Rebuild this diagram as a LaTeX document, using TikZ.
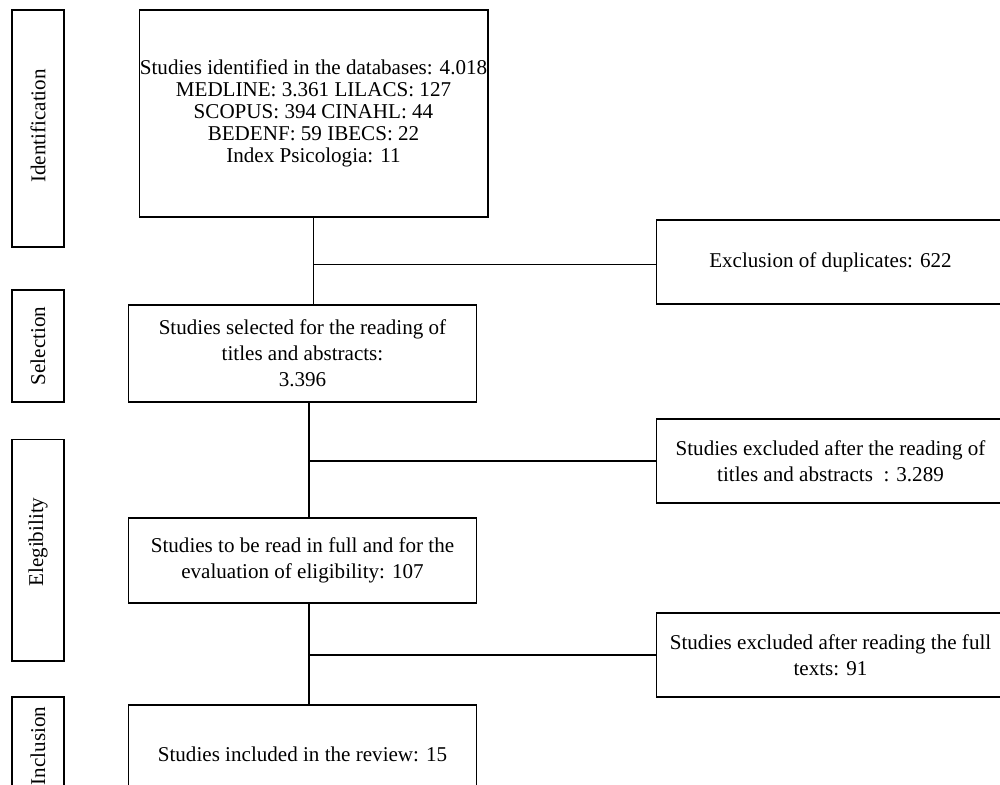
\documentclass[tikz,border=0pt]{standalone}
\usepackage{fontspec}
\setmainfont{Liberation Serif}
\usetikzlibrary{calc,positioning}

\begin{document}
\begin{tikzpicture}[x=0.02cm,y=-0.02cm]
  \tikzset{stage box/.style={draw,line width=0.6pt,minimum width=1.04cm,minimum height=#1,inner sep=0pt,font=\fontsize{12}{14.8}\selectfont},
    flow box/.style={draw,line width=0.6pt,minimum width=6.98cm,minimum height=#1,inner sep=0pt,align=center,font=\fontsize{12}{14.8}\selectfont},
    link/.style={line width=0.6pt}}%

  \path[use as bounding box,clip] (0,0) rectangle (1000,784);

  % stages on the left
  \node [stage box=4.74cm] (idstage) at (38,128.5) {\rotatebox{90}{\hspace*{0.1cm}Identification}};
  \node [stage box=2.24cm] (selstage) at (38,346) {\rotatebox{90}{Selection}};
  \node [stage box=4.44cm] (eligstage) at (38,550) {\rotatebox{90}{\hspace*{0.32cm}Elegibility}};
  \node [stage box=1.96cm] (inclstage) at (38,746) {\rotatebox{90}{Inclusion}};

  \node [flow box=4.14cm,font=\fontsize{12}{12.5}\selectfont] (found) at (313.5,113.5)
  {Studies identified in the databases: 4.018\\ MEDLINE: 3.361 LILACS: 127\\
   SCOPUS: 394 CINAHL: 44\\ BEDENF: 59 IBECS: 22\\ Index Psicologia: 11};
  \node [flow box=1.94cm] (screened) at (302.5,353.5)
  {Studies selected for the reading of\\ titles and abstracts:\\ 3.396};
  \node [flow box=1.7cm] (assessed) at (302.5,560.5)
  {Studies to be read in full and for the\\ evaluation of eligibility: 107};
  \node [flow box=1.96cm] (included) at (302.5,754)
  {Studies included in the review: 15};

  % exclusions on the right
  \node [flow box=1.68cm] (dupl) at (830.5,262) {Exclusion of duplicates: 622};
  \node [flow box=1.68cm] (exclabs) at (830.5,461)
  {Studies excluded after the reading of\\ titles and abstracts\ \ : 3.289};
  \node [flow box=1.68cm] (exclfull) at (830.5,655)
  {Studies excluded after reading the full\\ texts: 91};

  \draw [link] (found.south) -- (found.south |- screened.north);
  \draw [link] ([yshift=-0.05cm]found.south |- dupl.west) -- ([yshift=-0.05cm]dupl.west);

  \coordinate (s2) at ([xshift=0.13cm]screened.south);
  \draw [link] (s2) -- (s2 |- assessed.north);
  \draw [link] (s2 |- exclabs.west) -- (exclabs.west);

  \coordinate (s3) at ([xshift=0.13cm]assessed.south);
  \draw [link] (s3) -- (s3 |- included.north);
  \draw [link] (s3 |- exclfull.west) -- (exclfull.west);
\end{tikzpicture}
\end{document}
